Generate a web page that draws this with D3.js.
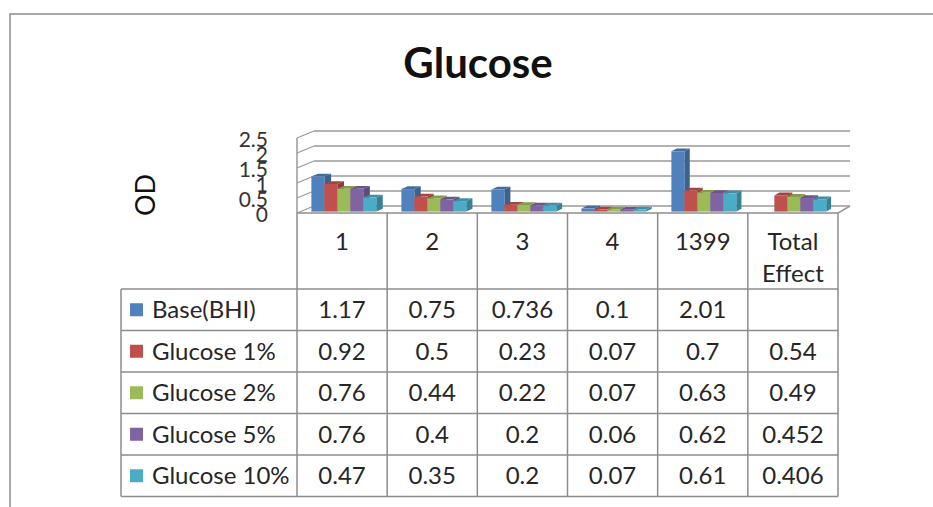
<!DOCTYPE html>
<html>
<head>
<meta charset="utf-8">
<script src="https://cdn.jsdelivr.net/npm/d3@7"></script>
<style>
  html, body { margin: 0; padding: 0; background: #fff; }
  svg { display: block; }
  text { font-family: Lato, "Open Sans", sans-serif; }
</style>
</head>
<body>
<svg id="chart" width="933" height="507"></svg>
<script>
// ---- data ----
const categories = ["1", "2", "3", "4", "1399", "Total Effect"];
const seriesNames = ["Base(BHI)", "Glucose 1%", "Glucose 2%", "Glucose 5%", "Glucose 10%"];
const baseBHI   = [1.17, 0.75, 0.736, 0.1, 2.01, null];
const glucose1  = [0.92, 0.5, 0.23, 0.07, 0.7, 0.54];
const glucose2  = [0.76, 0.44, 0.22, 0.07, 0.63, 0.49];
const glucose5  = [0.76, 0.4, 0.2, 0.06, 0.62, 0.452];
const glucose10 = [0.47, 0.35, 0.2, 0.07, 0.61, 0.406];
const yTicks = [0, 0.5, 1, 1.5, 2, 2.5];
const seriesColors = ["#4F81BD", "#C0504D", "#9BBB59", "#8064A2", "#4BACC6"];

const seriesValues = [baseBHI, glucose1, glucose2, glucose5, glucose10];

const svg = d3.select("#chart");

// chart frame
svg.append("rect")
  .attr("x", 10).attr("y", 14).attr("width", 940).attr("height", 520)
  .attr("fill", "#fff").attr("stroke", "#8c8c8c").attr("stroke-width", 1.5);

// title
svg.append("text")
  .attr("x", 478).attr("y", 78)
  .attr("text-anchor", "middle")
  .attr("font-size", 42).attr("font-weight", "bold").attr("fill", "#111")
  .text("Glucose");

// axis title
svg.append("text")
  .attr("transform", "translate(155,195) rotate(-90)")
  .attr("text-anchor", "middle")
  .attr("font-size", 27).attr("fill", "#111")
  .text("OD");

// ---- scales ----
const x = d3.scaleBand().domain(categories).range([297, 838]);
const y = d3.scaleLinear().domain([0, 2.5]).range([213, 138]);
const xs = d3.scaleBand().domain(seriesNames).range([11, 76]);
const depthY = -7;
function proj(xf, yf, z) {
  const t = (xf - 297) / (838 - 297);
  const dx = 17 + (12 - 17) * t;
  return [xf + z * dx, yf + z * depthY];
}
const gridColor = "#9a9a9a";

// back wall gridlines
const walls = svg.append("g");
yTicks.forEach(t => {
  const a = proj(297, y(t), 1), b = proj(838, y(t), 1);
  walls.append("line").attr("x1", a[0]).attr("y1", a[1]).attr("x2", b[0]).attr("y2", b[1])
    .attr("stroke", gridColor).attr("stroke-width", 1.5);
  // left wall
  walls.append("line").attr("x1", 297).attr("y1", y(t)).attr("x2", a[0]).attr("y2", a[1])
    .attr("stroke", gridColor).attr("stroke-width", 1.2);
});
// left wall front edge
walls.append("line").attr("x1", 297).attr("y1", y(0)).attr("x2", 297).attr("y2", y(2.5))
  .attr("stroke", gridColor).attr("stroke-width", 1.5);
// floor right edge
{
  const b = proj(838, y(0), 1);
  walls.append("line").attr("x1", 838).attr("y1", y(0)).attr("x2", b[0]).attr("y2", b[1])
    .attr("stroke", gridColor).attr("stroke-width", 1.5);
}

// y axis labels
svg.append("g").selectAll("text").data(yTicks).join("text")
  .attr("x", 268).attr("y", d => y(d) + 2)
  .attr("dy", "0.35em")
  .attr("text-anchor", "end")
  .attr("font-size", 21).attr("fill", "#333")
  .text(d => d);

// ---- 3D bars ----
const zFront = 0.2, zBack = 0.6;
const bars = svg.append("g");
categories.forEach((c, ci) => {
  seriesNames.forEach((s, si) => {
    const v = seriesValues[si][ci];
    if (v == null) return;
    const x0 = x(c) + xs(s), x1 = x0 + xs.bandwidth();
    const yb = y(0), yt = y(v);
    const col = d3.color(seriesColors[si]);
    const p = (xx, yy, z) => proj(xx, yy, z).join(",");
    // right side
    bars.append("polygon")
      .attr("points", [p(x1, yb, zFront), p(x1, yb, zBack), p(x1, yt, zBack), p(x1, yt, zFront)].join(" "))
      .attr("fill", col.darker(0.8));
    // top
    bars.append("polygon")
      .attr("points", [p(x0, yt, zFront), p(x1, yt, zFront), p(x1, yt, zBack), p(x0, yt, zBack)].join(" "))
      .attr("fill", col.darker(0.5));
    // front
    bars.append("polygon")
      .attr("points", [p(x0, yb, zFront), p(x1, yb, zFront), p(x1, yt, zFront), p(x0, yt, zFront)].join(" "))
      .attr("fill", col.toString());
  });
});

// ---- data table ----
const tableColor = "#8c8c8c";
const tableLeft = 121;
const rowY = d3.scaleBand().domain(seriesNames).range([289, 496.5]);
const table = svg.append("g");
// floor front edge / header top
table.append("line").attr("x1", 297).attr("x2", 838).attr("y1", 213).attr("y2", 213)
  .attr("stroke", tableColor).attr("stroke-width", 1.5);
// horizontal lines
const hLines = [rowY.range()[0]].concat(seriesNames.map(s => rowY(s) + rowY.bandwidth()));
hLines.forEach(yy => {
  table.append("line").attr("x1", tableLeft).attr("x2", 838).attr("y1", yy).attr("y2", yy)
    .attr("stroke", tableColor).attr("stroke-width", 1.5);
});
// vertical lines
categories.forEach(c => {
  table.append("line").attr("x1", x(c)).attr("x2", x(c)).attr("y1", 213).attr("y2", 496.5)
    .attr("stroke", tableColor).attr("stroke-width", 1.5);
});
table.append("line").attr("x1", 838).attr("x2", 838).attr("y1", 213).attr("y2", 496.5)
  .attr("stroke", tableColor).attr("stroke-width", 1.5);
table.append("line").attr("x1", tableLeft).attr("x2", tableLeft).attr("y1", 289).attr("y2", 496.5)
  .attr("stroke", tableColor).attr("stroke-width", 1.5);

// header labels
categories.forEach(c => {
  const words = c.split(" ");
  const t = table.append("text")
    .attr("x", x(c) + x.bandwidth() / 2).attr("y", 250)
    .attr("text-anchor", "middle").attr("font-size", 24).attr("fill", "#262626");
  words.forEach((w, i) => {
    t.append("tspan").attr("x", x(c) + x.bandwidth() / 2).attr("dy", i === 0 ? 0 : 32).text(w);
  });
});

// row labels with legend keys
seriesNames.forEach((s, si) => {
  const cy = rowY(s) + rowY.bandwidth() / 2;
  table.append("rect").attr("x", 130).attr("y", cy - 6.5).attr("width", 13).attr("height", 13)
    .attr("fill", seriesColors[si]);
  table.append("text").attr("x", 152).attr("y", cy).attr("dy", "0.35em")
    .attr("font-size", 24).attr("fill", "#262626").text(s);
  categories.forEach((c, ci) => {
    const v = seriesValues[si][ci];
    if (v == null) return;
    table.append("text")
      .attr("x", x(c) + x.bandwidth() / 2).attr("y", cy).attr("dy", "0.35em")
      .attr("text-anchor", "middle").attr("font-size", 24).attr("fill", "#262626")
      .text(String(v));
  });
});
</script>
</body>
</html>
